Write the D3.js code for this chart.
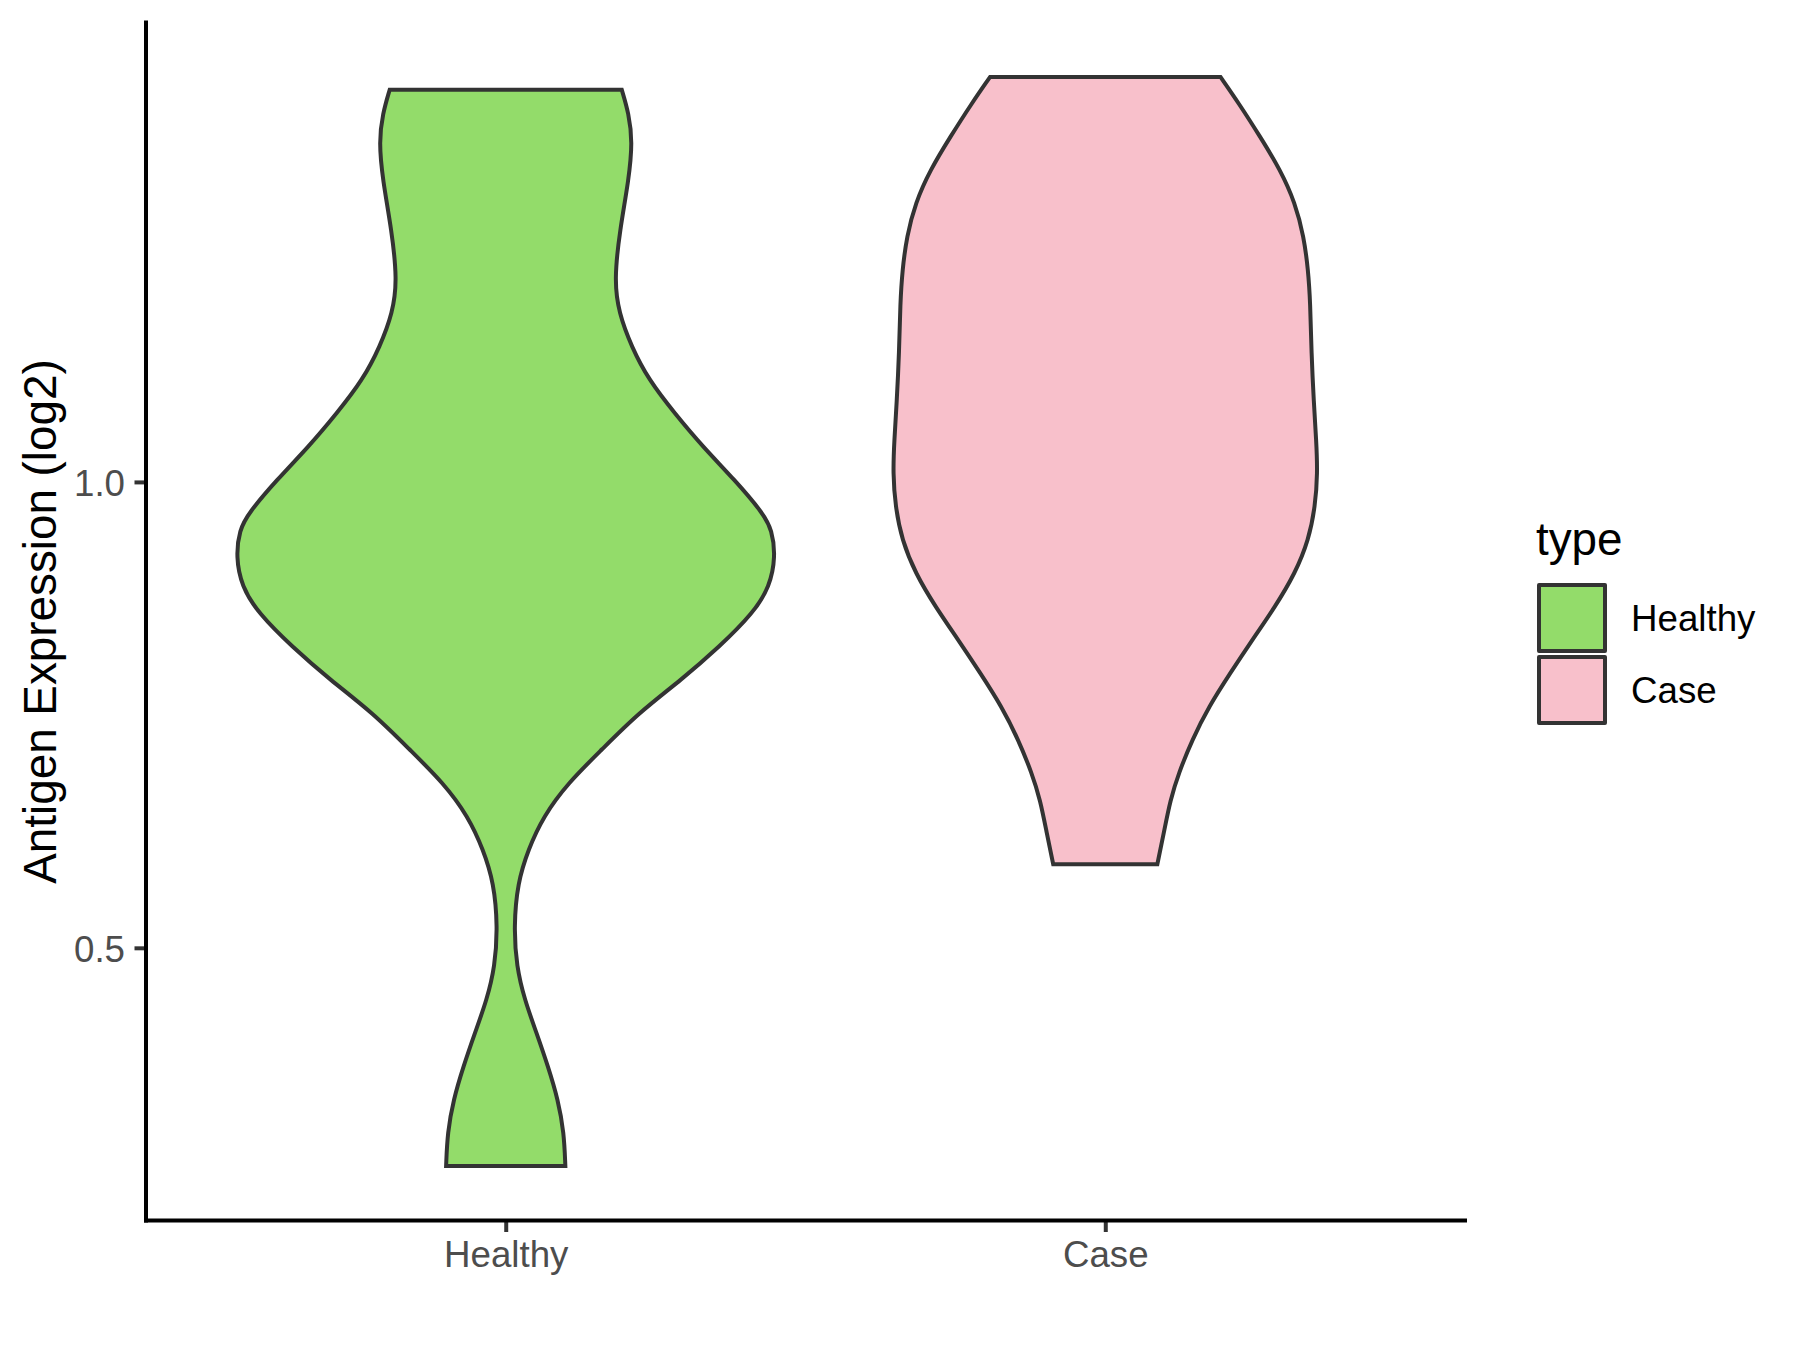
<!DOCTYPE html>
<html>
<head>
<meta charset="utf-8">
<script src="https://cdn.jsdelivr.net/npm/d3@7/dist/d3.min.js"></script>
<style>
  html, body { margin: 0; padding: 0; background: #ffffff; }
  svg { display: block; }
</style>
</head>
<body>
<svg id="chart" width="1800" height="1350"></svg>
<script>
// ---- data ----
const categories = ["Healthy", "Case"];
const fillColors = ["#93DC6A", "#F8C0CB"];

// Healthy violin: expression values (log2) and relative density (max = 1)
const healthyValues = [1.421, 1.3956, 1.3651, 1.3240, 1.2704, 1.2167, 1.1813, 1.1452, 1.1094, 1.0737,
  1.0379, 1.0021, 0.9664, 0.9485, 0.9198, 0.8877, 0.8591, 0.8233, 0.7876, 0.7518,
  0.7124, 0.6770, 0.6409, 0.6052, 0.5697, 0.5228, 0.4799, 0.4442, 0.4088, 0.3726,
  0.3369, 0.3015, 0.2658];
const healthyDensity = [0.430, 0.456, 0.470, 0.456, 0.423, 0.402, 0.419, 0.466, 0.530, 0.626,
  0.730, 0.849, 0.954, 0.987, 1.000, 0.979, 0.917, 0.793, 0.651, 0.491,
  0.355, 0.231, 0.139, 0.083, 0.044, 0.030, 0.040, 0.070, 0.114, 0.157,
  0.194, 0.216, 0.221];

// Case violin
const caseValues = [1.4346, 1.4063, 1.3705, 1.3348, 1.2994, 1.2632, 1.2275, 1.1921, 1.1384, 1.0848,
  1.0451, 1.0093, 0.9735, 0.9378, 0.9020, 0.8662, 0.8305, 0.7947, 0.7589, 0.7232,
  0.6874, 0.6588, 0.6234, 0.5897];
const caseDensity = [0.427, 0.495, 0.574, 0.649, 0.704, 0.736, 0.752, 0.760, 0.764, 0.773,
  0.782, 0.787, 0.778, 0.754, 0.704, 0.630, 0.545, 0.463, 0.384, 0.322,
  0.272, 0.241, 0.217, 0.193];

const yTickValues = [0.5, 1.0];
const yTitle = "Antigen Expression (log2)";
const legendTitle = "type";

// ---- layout ----
const svg = d3.select("#chart");
const panel = { left: 146, right: 1465, top: 22.5, bottom: 1220.5 };
const font = "'Liberation Sans', Arial, Helvetica, sans-serif";

const groups = [
  { name: categories[0], values: healthyValues, density: healthyDensity, fill: fillColors[0] },
  { name: categories[1], values: caseValues, density: caseDensity, fill: fillColors[1] }
];

const allVals = healthyValues.concat(caseValues);
const vmin = d3.min(allVals), vmax = d3.max(allVals);
const pad = (vmax - vmin) * 0.05;

const y = d3.scaleLinear().domain([vmin - pad, vmax + pad]).range([panel.bottom, panel.top]);
const x = d3.scalePoint().domain(categories).range([panel.left, panel.right]).padding(0.6);
const halfMax = x.step() * 0.45;
const w = d3.scaleLinear().domain([0, 1]).range([0, halfMax]);

// ---- violins ----
groups.forEach(g => {
  const cx = x(g.name);
  const pts = g.values.map((v, i) => ({ v: v, d: g.density[i] }));
  const area = d3.area()
    .y(d => y(d.v))
    .x0(d => cx - w(d.d))
    .x1(d => cx + w(d.d))
    .curve(d3.curveBasis);
  svg.append("path")
    .attr("d", area(pts))
    .attr("fill", g.fill)
    .attr("stroke", "#333333")
    .attr("stroke-width", 4)
    .attr("stroke-linejoin", "miter");
});

// ---- axes ----
const yAxis = d3.axisLeft(y).tickValues(yTickValues).tickFormat(d3.format(".1f"))
  .tickSize(11.5).tickPadding(9.5).tickSizeOuter(0);
const gy = svg.append("g").attr("transform", `translate(${panel.left},0)`).call(yAxis);
gy.select(".domain").remove();
gy.selectAll(".tick line").attr("stroke", "#333333").attr("stroke-width", 4);
gy.selectAll(".tick text").attr("fill", "#4D4D4D").attr("font-family", font)
  .attr("font-size", 36.7).attr("dy", "0.36em");

const xAxis = d3.axisBottom(x).tickSize(11.5).tickPadding(8.9).tickSizeOuter(0);
const gx = svg.append("g").attr("transform", `translate(0,${panel.bottom})`).call(xAxis);
gx.select(".domain").remove();
gx.selectAll(".tick line").attr("stroke", "#333333").attr("stroke-width", 4);
gx.selectAll(".tick text").attr("fill", "#4D4D4D").attr("font-family", font)
  .attr("font-size", 36.7);

// axis lines
svg.append("line").attr("x1", panel.left).attr("x2", panel.left)
  .attr("y1", panel.top).attr("y2", panel.bottom)
  .attr("stroke", "#000").attr("stroke-width", 4).attr("stroke-linecap", "square");
svg.append("line").attr("x1", panel.left).attr("x2", panel.right)
  .attr("y1", panel.bottom).attr("y2", panel.bottom)
  .attr("stroke", "#000").attr("stroke-width", 4).attr("stroke-linecap", "square");

// y title
svg.append("text")
  .attr("transform", `translate(56,${(panel.top + panel.bottom) / 2}) rotate(-90)`)
  .attr("text-anchor", "middle")
  .attr("font-family", font).attr("font-size", 45.8).attr("fill", "#000")
  .text(yTitle);

// ---- legend ----
const lg = svg.append("g");
lg.append("text").attr("x", 1536).attr("y", 555)
  .attr("font-family", font).attr("font-size", 45.8).attr("fill", "#000")
  .text(legendTitle);
groups.forEach((g, i) => {
  const top = 582 + i * 72;
  lg.append("rect").attr("x", 1539).attr("y", top + 3).attr("width", 66).attr("height", 66)
    .attr("fill", g.fill).attr("stroke", "#333333").attr("stroke-width", 4)
    .attr("stroke-linejoin", "round");
  lg.append("text").attr("x", 1631).attr("y", top + 36 + 13)
    .attr("font-family", font).attr("font-size", 36.7).attr("fill", "#000")
    .text(g.name);
});
</script>
</body>
</html>
